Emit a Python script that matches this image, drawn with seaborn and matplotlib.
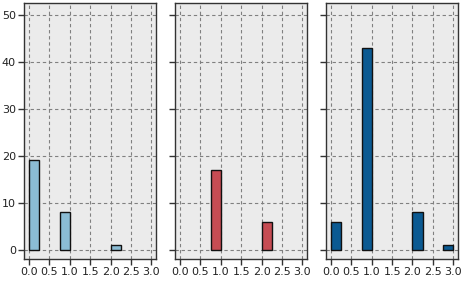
import numpy as np
import pandas as pd
import matplotlib
matplotlib.use("Agg")
import matplotlib.pyplot as plt
import seaborn as sns

# bin edges of the histograms (width 0.25 from 0 to 3)
bin_edges = list(np.arange(0, 3.01, 0.25))

# values: bin start and count per panel
p1_x = [0.0, 0.75, 2.0]
p1_counts = [19, 8, 1]
p2_x = [0.75, 2.0]
p2_counts = [17, 6]
p3_x = [0.0, 0.75, 2.0, 2.75]
p3_counts = [6, 43, 8, 1]

colors = ["#8bbcd4", "#c64c53", "#0b5a92"]
x_ticks = [0.0, 0.5, 1.0, 1.5, 2.0, 2.5, 3.0]
y_ticks = [0, 10, 20, 30, 40, 50]

sns.set_style("whitegrid")
plt.rcParams["font.family"] = ["DejaVu Sans"]
plt.rcParams["font.size"] = 8

fig, axes = plt.subplots(1, 3, figsize=(4.66, 2.81), dpi=100, sharey=True)
fig.subplots_adjust(left=0.052, right=0.983, top=0.989, bottom=0.078, wspace=0.145)

panels = [(p1_x, p1_counts), (p2_x, p2_counts), (p3_x, p3_counts)]
for ax, (xs, cs), col in zip(axes, panels, colors):
    ax.set_facecolor("#ebebeb")
    df = pd.DataFrame({"x": xs, "count": cs})
    sns.histplot(data=df, x="x", weights="count", bins=bin_edges, color=col,
                 alpha=1, edgecolor="#111111", linewidth=1, ax=ax)
    # empty bins should not leave a flat outline
    for p in list(ax.patches):
        if p.get_height() == 0:
            p.remove()
    ax.set_xlim(-0.12, 3.12)
    ax.set_ylim(-2, 52.5)
    ax.set_xticks(x_ticks)
    ax.set_xticklabels([f"{t:.1f}" for t in x_ticks])
    ax.set_yticks(y_ticks)
    ax.set_xlabel("")
    ax.set_ylabel("")
    ax.grid(True, color="#808080", linestyle=(0, (3, 2.5)), linewidth=0.8)
    ax.set_axisbelow(True)
    for s in ax.spines.values():
        s.set_color("#333333")
        s.set_linewidth(1)
    ax.tick_params(axis="both", direction="out", length=4, width=1,
                   color="#333333", labelsize=8, pad=2, labelcolor="#222222")
    ax.tick_params(axis="y", left=True)
    ax.tick_params(axis="x", bottom=True)

fig.savefig("out.png", dpi=100)
